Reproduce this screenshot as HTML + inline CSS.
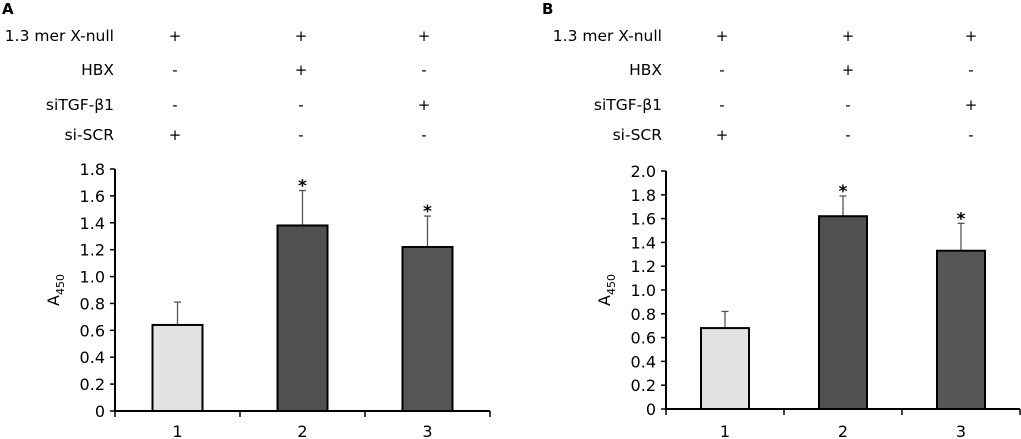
<!DOCTYPE html>
<html><head><meta charset="utf-8"><style>
html,body{margin:0;padding:0;background:#fff;}
svg{display:block;font-family:"DejaVu Sans","Liberation Sans",sans-serif;}
</style></head><body>
<svg id="c" width="1021" height="439" viewBox="0 0 1021 439" xmlns="http://www.w3.org/2000/svg"></svg>
<script>
const categories = ["1","2","3"];
const conditionRows = ["1.3 mer X-null","HBX","siTGF-\u03B21","si-SCR"];
const conditionMarks = [["+","+","+"],["-","+","-"],["-","-","+"],["+","-","-"]];
const valuesA = [0.64, 1.38, 1.22];
const errorsA = [0.81, 1.64, 1.45];
const valuesB = [0.68, 1.62, 1.33];
const errorsB = [0.82, 1.79, 1.56];
const ticksA = ["0","0.2","0.4","0.6","0.8","1.0","1.2","1.4","1.6","1.8"];
const ticksB = ["0","0.2","0.4","0.6","0.8","1.0","1.2","1.4","1.6","1.8","2.0"];
const sigA = [false, true, true];
const sigB = [false, true, true];
const barColors = ["#e2e2e2","#505050","#565656"];

const svg = document.getElementById('c');
const NS = 'http://www.w3.org/2000/svg';
function mk(tag, attrs, parent){
  const e = document.createElementNS(NS, tag);
  for (const k in attrs) e.setAttribute(k, attrs[k]);
  (parent||svg).appendChild(e);
  return e;
}
function txt(s, x, y, anchor, size, parent, bold){
  const t = mk('text', {x:x, y:y, 'text-anchor':anchor, 'font-size':size, fill:'#000'}, parent);
  if (bold) t.setAttribute('font-weight','bold');
  t.textContent = s;
  return t;
}

function panel(cfg){
  const g = mk('g', {});
  
  
  const pl = txt(cfg.letter, cfg.letterX, 14, 'start', 15, g, true);
  
  
  const rowY = [41, 75, 110, 140];
  conditionRows.forEach((r, i) => {
    const t = txt(r, cfg.labelRight, rowY[i], 'end', 15.5, g);
    
    
    conditionMarks[i].forEach((m, j) => {
      const mt = txt(m, cfg.colX[j], rowY[i], 'middle', 15, g);
      
      
    });
  });
  const x0 = cfg.axisX, x1 = cfg.axisEnd, yZero = cfg.yZero, yTop = cfg.yTop, maxV = cfg.maxV;
  const yScale = v => yZero - (v / maxV) * (yZero - yTop);
  const band = (x1 - x0) / categories.length;
  const xCenter = i => x0 + band * (i + 0.5);
  const ya = mk('line', {x1:x0, y1:yTop, x2:x0, y2:yZero, stroke:'#000', 'stroke-width':2}, g);
  
  
  cfg.ticks.forEach(tk => {
    const v = parseFloat(tk), y = yScale(v);
    mk('line', {x1:x0-5, y1:y, x2:x0, y2:y, stroke:'#000', 'stroke-width':1.5}, g);
    const t = txt(tk, x0-10, y+6, 'end', 16, g);
    
    
  });
  const yt = txt('', 0, 0, 'middle', 16, g);
  yt.setAttribute('transform', 'translate(' + (x0-56) + ',' + ((yTop+yZero)/2) + ') rotate(-90)');
  yt.innerHTML = 'A<tspan font-size="11" dy="5">450</tspan>';
  
  
  cfg.values.forEach((v, i) => {
    const cx = xCenter(i), w = cfg.barW;
    const ey = yScale(cfg.errors[i]), by = yScale(v);
    const el = mk('line', {x1:cx, y1:ey, x2:cx, y2:by, stroke:'#555', 'stroke-width':1.3}, g);
    
    
    mk('line', {x1:cx-3.5, y1:ey, x2:cx+3.5, y2:ey, stroke:'#555', 'stroke-width':1.3}, g);
    const b = mk('rect', {x:cx-w/2, y:by, width:w, height:yZero-by, fill:barColors[i], stroke:'#000', 'stroke-width':2}, g);
    
    
    if (cfg.sig[i]) {
      const s = txt('*', cx, ey+1, 'middle', 17, g, true);
      
      
    }
    const xl = txt(categories[i], cx, 437, 'middle', 16, g);
    
    
  });
  const xa = mk('line', {x1:x0, y1:yZero, x2:x1, y2:yZero, stroke:'#000', 'stroke-width':2}, g);
  
  
  for (let i = 0; i <= categories.length; i++) {
    const x = x0 + band * i;
    mk('line', {x1:x, y1:yZero, x2:x, y2:yZero+6, stroke:'#000', 'stroke-width':1.5}, g);
  }
}

panel({letter:'A', letterX:2, labelRight:114, colX:[175,301,424], axisX:115, axisEnd:490, yZero:411, yTop:169, maxV:1.8, ticks:ticksA, values:valuesA, errors:errorsA, sig:sigA, barW:50});
panel({letter:'B', letterX:542, labelRight:662, colX:[722,848,971], axisX:666, axisEnd:1020, yZero:409, yTop:171, maxV:2.0, ticks:ticksB, values:valuesB, errors:errorsB, sig:sigB, barW:48});
</script>
</body></html>
